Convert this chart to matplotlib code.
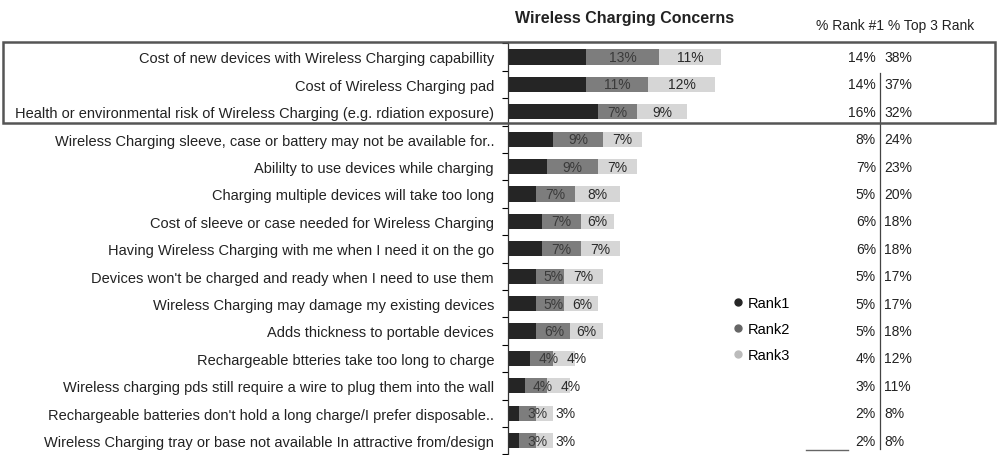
import matplotlib.pyplot as plt
from matplotlib.lines import Line2D
from matplotlib.patches import Rectangle

plt.rcParams['font.family'] = ['Liberation Sans', 'DejaVu Sans']

concerns = [
    "Cost of new devices with Wireless Charging capabillity",
    "Cost of Wireless Charging pad",
    "Health or environmental risk of Wireless Charging (e.g. rdiation exposure)",
    "Wireless Charging sleeve, case or battery may not be available for..",
    "Abililty to use devices while charging",
    "Charging multiple devices will take too long",
    "Cost of sleeve or case needed for Wireless Charging",
    "Having Wireless Charging with me when I need it on the go",
    "Devices won't be charged and ready when I need to use them",
    "Wireless Charging may damage my existing devices",
    "Adds thickness to portable devices",
    "Rechargeable btteries take too long to charge",
    "Wireless charging pds still require a wire to plug them into the wall",
    "Rechargeable batteries don't hold a long charge/I prefer disposable..",
    "Wireless Charging tray or base not available In attractive from/design",
]
rank1 = [14, 14, 16, 8, 7, 5, 6, 6, 5, 5, 5, 4, 3, 2, 2]
rank2 = [13, 11, 7, 9, 9, 7, 7, 7, 5, 5, 6, 4, 4, 3, 3]
rank3 = [11, 12, 9, 7, 7, 8, 6, 7, 7, 6, 6, 4, 4, 3, 3]
top3 = [38, 37, 32, 24, 23, 20, 18, 18, 17, 17, 18, 12, 11, 8, 8]

c1, c2, c3 = '#252525', '#7d7d7d', '#d6d6d6'

W, H = 997, 456
fig = plt.figure(figsize=(W / 100, H / 100), dpi=100)

# bar area: left spine at x=508px, rows 27.4px apart starting at y=58px
left_px, top_px, row0, step, pxpct = 508, 43, 58, 27.4, 5.6
ax = fig.add_axes([left_px / W, 0, 1 - left_px / W, 1 - top_px / H])
n = len(concerns)
ys = list(range(n))
ax.set_ylim((H - row0) / step, -(row0 - top_px) / step)
ax.set_xlim(0, (W - left_px) / pxpct)

lefts2 = [a for a in rank1]
lefts3 = [a + b for a, b in zip(rank1, rank2)]
ax.barh(ys, rank1, height=0.56, color=c1, label='Rank1')
ax.barh(ys, rank2, left=lefts2, height=0.56, color=c2, label='Rank2')
ax.barh(ys, rank3, left=lefts3, height=0.56, color=c3, label='Rank3')

for i in ys:
    # labels get pushed right when the segments are too thin for them
    x2 = max(lefts2[i] + rank2[i] / 2, rank1[i] + 3.2)
    x3 = max(lefts3[i] + rank3[i] / 2, x2 + 5.0)
    ax.text(x2, i, f"{rank2[i]}%", ha='center', va='center', fontsize=10, color='#3a3a3a')
    ax.text(x3, i, f"{rank3[i]}%", ha='center', va='center', fontsize=10, color='#2a2a2a')
    ax.text(65.7, i, f"{rank1[i]}%", ha='right', va='center', fontsize=10, color='#222222')
    ax.text(67.2, i, f"{top3[i]}%", ha='left', va='center', fontsize=10, color='#222222')

# separator between the two number columns
ax.plot([66.45, 66.45], [0.6, 14.3], color='#444444', lw=0.9)

ax.set_yticks(ys)
ax.set_yticklabels(concerns, fontsize=10.5, color='#222222')
ax.tick_params(axis='y', which='major', length=0, pad=10)
ax.set_yticks([i + 0.5 for i in range(-1, n)], minor=True)
ax.tick_params(axis='y', which='minor', length=4, width=0.8, direction='out')
ax.set_xticks([])
for s in ['top', 'right', 'bottom']:
    ax.spines[s].set_visible(False)
ax.spines['left'].set_color('#333333')
ax.spines['left'].set_linewidth(0.9)

handles = [Line2D([], [], marker='o', ls='', color=c, markersize=5) for c in (c1, '#666666', '#bbbbbb')]
fig.legend(handles, ['Rank1', 'Rank2', 'Rank3'], loc='center left',
           bbox_to_anchor=(716 / W, 1 - 330 / H), frameon=False, fontsize=10.5,
           handletextpad=0.1, labelspacing=0.85, handlelength=1.2)

fig.text(625 / W, 1 - 18 / H, "Wireless Charging Concerns", ha='center', va='center',
         fontsize=11.5, fontweight='bold', color='#222222')
fig.text(816 / W, 1 - 26 / H, "% Rank #1 % Top 3 Rank", ha='left', va='center',
         fontsize=10, color='#222222')

# highlight box around the top three concerns
fig.patches.append(Rectangle((3 / W, 1 - 124 / H), 992 / W, 81 / H, transform=fig.transFigure,
                             fill=False, ec='#555555', lw=1.8))
fig.add_artist(Line2D([806 / W, 848 / W], [1 - 451 / H, 1 - 451 / H], color='#666666', lw=1))

fig.savefig('out.png', dpi=100)
